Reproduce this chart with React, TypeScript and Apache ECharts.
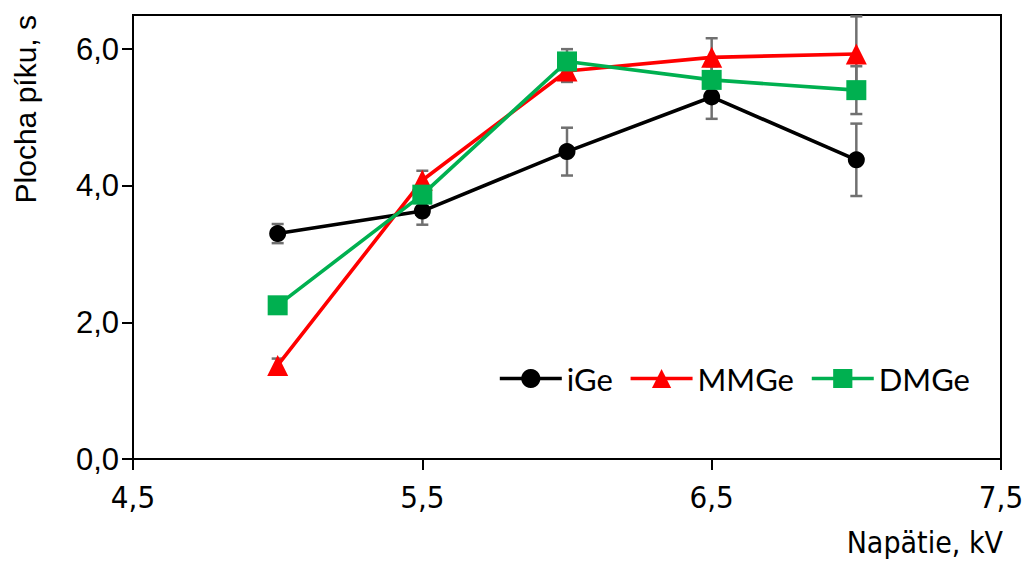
import React, { useEffect, useRef } from "react";
import * as echarts from "echarts";

const voltages = [5.0, 5.5, 6.0, 6.5, 7.0];
const iGe = [3.3, 3.63, 4.5, 5.3, 4.38];
const iGeErr = [0.14, 0.2, 0.35, 0.32, 0.53];
const mmGe = [1.37, 4.08, 5.68, 5.88, 5.93];
const mmGeErr = [0.1, 0.14, 0.16, 0.28, 0.55];
const dmGe = [2.25, 3.87, 5.82, 5.55, 5.4];
const dmGeErr = [0.08, 0.1, 0.18, 0.2, 0.35];
const xTicks = [4.5, 5.5, 6.5, 7.5];
const yTicks = [0, 2, 4, 6];

const fmt = (v: number) => v.toFixed(1).replace(".", ",");

const narrowFont = "'Liberation Sans Narrow', 'DejaVu Sans Condensed', 'Roboto Condensed', sans-serif";
const armFont = "'Liberation Sans', Arial, sans-serif";

function errSeries(vals: number[], errs: number[]) {
  return {
    type: "custom",
    z: 1,
    silent: true,
    data: voltages.map((x, i) => [x, vals[i], errs[i]]),
    renderItem: (params: any, api: any) => {
      const x = api.value(0);
      const y = api.value(1);
      const e = api.value(2);
      const top = api.coord([x, y + e]);
      const bot = api.coord([x, y - e]);
      const style = { stroke: "#707070", lineWidth: 2.5 };
      const hw = 6;
      return {
        type: "group",
        children: [
          { type: "line", shape: { x1: top[0], y1: top[1], x2: bot[0], y2: bot[1] }, style },
          { type: "line", shape: { x1: top[0] - hw, y1: top[1], x2: top[0] + hw, y2: top[1] }, style },
          { type: "line", shape: { x1: bot[0] - hw, y1: bot[1], x2: bot[0] + hw, y2: bot[1] }, style },
        ],
      };
    },
  };
}

export default function App() {
  const ref = useRef<HTMLDivElement>(null);
  useEffect(() => {
    if (!ref.current) return;
    const chart = echarts.init(ref.current, undefined, { renderer: "svg" });
    const lineSeries = (name: string, vals: number[], color: string, symbol: string, size: number) => ({
      name,
      type: "line",
      z: 3,
      data: voltages.map((x, i) => [x, vals[i]]),
      symbol,
      symbolSize: size,
      showSymbol: true,
      itemStyle: { color },
      lineStyle: { color, width: 3.6 },
    });
    chart.setOption({
      animation: false,
      backgroundColor: "#ffffff",
      grid: {
        left: 133,
        right: 26,
        top: 15,
        bottom: 102,
        show: true,
        borderColor: "#000",
        borderWidth: 2,
      },
      xAxis: {
        type: "value",
        min: 4.5,
        max: 7.5,
        splitLine: { show: false },
        axisLine: { onZero: false, lineStyle: { color: "#000", width: 2 } },
        axisTick: { show: true, inside: false, length: 11, lineStyle: { color: "#000", width: 2 }, customValues: xTicks },
        axisLabel: {
          customValues: xTicks,
          formatter: (v: number) => fmt(v),
          color: "#000",
          fontSize: 31,
          fontFamily: narrowFont,
          margin: 22,
        },
      },
      yAxis: {
        type: "value",
        min: 0,
        max: 6.5,
        splitLine: { show: false },
        axisLine: { show: true, onZero: false, lineStyle: { color: "#000", width: 2 } },
        axisTick: { show: true, inside: false, length: 11, lineStyle: { color: "#000", width: 2 }, customValues: yTicks },
        axisLabel: {
          customValues: yTicks,
          formatter: (v: number) => fmt(v),
          color: "#000",
          fontSize: 31,
          fontFamily: armFont,
          margin: 14,
        },
      },
      legend: {
        left: 493,
        top: 358,
        itemWidth: 62,
        itemHeight: 24,
        itemGap: 16,
        lineStyle: { width: 3.6 },
        textStyle: {
          fontSize: 31,
          color: "#000",
          fontFamily: "Lato, 'Open Sans', sans-serif",
          padding: [0, 0, 0, 0],
        },
        data: ["iGe", "MMGe", "DMGe"],
      },
      graphic: [
        {
          type: "text",
          left: 10,
          top: 15,
          rotation: Math.PI / 2,
          style: {
            text: "Plocha píku, s",
            fontSize: 30,
            fontFamily: armFont,
            fill: "#000",
          },
        },
        {
          type: "text",
          right: 24,
          top: 527,
          style: {
            text: "Napätie, kV",
            fontSize: 30,
            fontFamily: narrowFont,
            fill: "#000",
          },
        },
      ],
      series: [
        errSeries(iGe, iGeErr),
        errSeries(mmGe, mmGeErr),
        errSeries(dmGe, dmGeErr),
        lineSeries("iGe", iGe, "#000000", "circle", 17),
        lineSeries("MMGe", mmGe, "#ff0000", "triangle", 21),
        lineSeries("DMGe", dmGe, "#00b050", "rect", 20),
      ],
    });
    return () => chart.dispose();
  }, []);
  return (
    <div
      ref={ref}
      style={{ position: "fixed", left: 0, top: 0, width: 1027, height: 561, background: "#fff" }}
    />
  );
}
